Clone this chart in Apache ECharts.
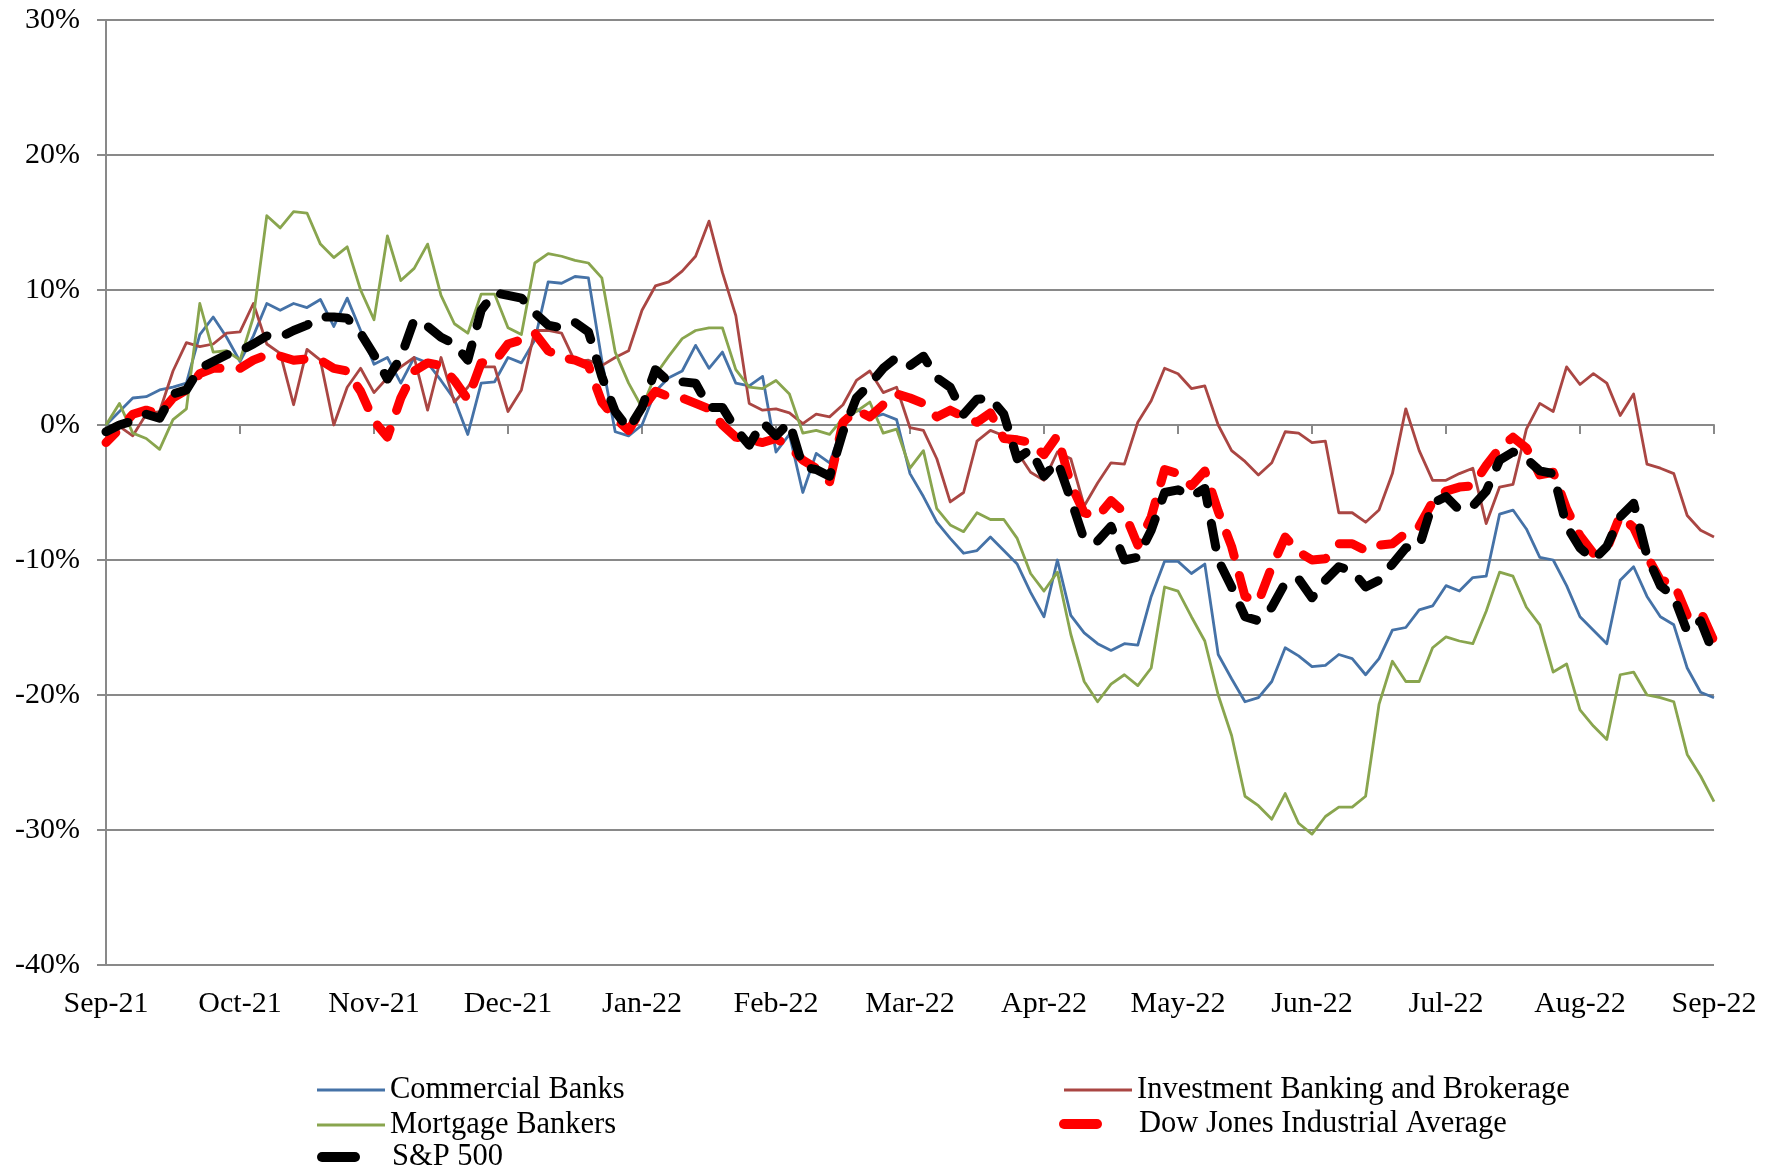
<!DOCTYPE html>
<html>
<head>
<meta charset="utf-8">
<script src="https://cdn.jsdelivr.net/npm/echarts@6/dist/echarts.min.js"></script>
<style>
html,body{margin:0;padding:0;background:#fff;}
#chart{width:1776px;height:1170px;}
</style>
</head>
<body>
<div id="chart"></div>
<script>
// Month tick labels (x axis), one per month boundary
const monthLabels = ['Sep-21','Oct-21','Nov-21','Dec-21','Jan-22','Feb-22','Mar-22','Apr-22','May-22','Jun-22','Jul-22','Aug-22','Sep-22'];
// Samples every 1/10 month (121 points), cumulative % change
const commercialBanks = [0, 1.0, 2.0, 2.1, 2.6, 2.8, 3.1, 6.7, 8.0, 6.5,
 4.7, 6.6, 9.0, 8.5, 9.0, 8.7, 9.3, 7.3, 9.4, 7.0,
 4.5, 5.0, 3.1, 5.0, 4.6, 3.3, 1.9, -0.7, 3.1, 3.2,
 5.0, 4.6, 6.3, 10.6, 10.5, 11.0, 10.9, 4.8, -0.5, -0.8,
 0.0, 2.5, 3.5, 4.0, 5.9, 4.2, 5.4, 3.1, 2.9, 3.6,
 -2.0, -0.7, -5.0, -2.1, -2.8, 0.0, 1.2, 0.5, 0.8, 0.4,
 -3.6, -5.3, -7.2, -8.4, -9.5, -9.3, -8.3, -9.3, -10.3, -12.4,
 -14.2, -10.0, -14.1, -15.4, -16.2, -16.7, -16.2, -16.3, -12.7, -10.1,
 -10.1, -11.0, -10.3, -17.0, -18.8, -20.5, -20.2, -19.0, -16.5, -17.1,
 -17.9, -17.8, -17.0, -17.3, -18.5, -17.3, -15.2, -15.0, -13.7, -13.4,
 -11.9, -12.3, -11.3, -11.2, -6.6, -6.3, -7.7, -9.8, -10.0, -11.9,
 -14.2, -15.2, -16.2, -11.5, -10.5, -12.7, -14.2, -14.8, -18.0, -19.8,
 -20.2];
const investmentBanking = [-0.5, -0.1, -0.8, 0.8, 1.0, 4.0, 6.1, 5.8, 6.0, 6.8,
 6.9, 9.0, 6.0, 5.3, 1.5, 5.6, 4.8, 0.0, 2.8, 4.2,
 2.4, 3.5, 4.3, 5.0, 1.1, 5.0, 1.7, 2.8, 4.3, 4.3,
 1.0, 2.6, 7.0, 7.0, 6.8, 4.7, 4.8, 4.4, 5.0, 5.5,
 8.5, 10.3, 10.6, 11.4, 12.5, 15.1, 11.3, 8.1, 1.6, 1.1,
 1.2, 0.9, 0.1, 0.8, 0.6, 1.5, 3.3, 4.0, 2.4, 2.8,
 -0.2, -0.4, -2.5, -5.7, -5.0, -1.2, -0.4, -0.8, -2.0, -3.5,
 -4.1, -2.0, -2.5, -6.0, -4.3, -2.8, -2.9, 0.2, 1.8, 4.2,
 3.8, 2.7, 2.9, 0.0, -1.9, -2.7, -3.7, -2.8, -0.5, -0.6,
 -1.3, -1.2, -6.5, -6.5, -7.2, -6.3, -3.6, 1.2, -1.9, -4.1,
 -4.1, -3.6, -3.2, -7.3, -4.6, -4.4, -0.3, 1.6, 1.0, 4.3,
 3.0, 3.8, 3.1, 0.7, 2.3, -2.9, -3.2, -3.6, -6.7, -7.8,
 -8.3];
const mortgageBankers = [0.0, 1.6, -0.6, -1.0, -1.8, 0.4, 1.2, 9.0, 5.4, 5.5,
 4.8, 8.0, 15.5, 14.6, 15.8, 15.7, 13.4, 12.4, 13.2, 10.0,
 7.8, 14.0, 10.7, 11.6, 13.4, 9.6, 7.5, 6.8, 9.7, 9.7,
 7.2, 6.7, 12.0, 12.7, 12.5, 12.2, 12.0, 10.9, 5.4, 3.1,
 1.3, 3.7, 5.1, 6.4, 7.0, 7.2, 7.2, 4.1, 2.8, 2.7,
 3.3, 2.3, -0.6, -0.4, -0.7, 0.5, 1.0, 1.7, -0.6, -0.3,
 -3.2, -1.9, -6.2, -7.4, -7.9, -6.5, -7.0, -7.0, -8.4, -11.0,
 -12.3, -10.9, -15.5, -19.0, -20.5, -19.2, -18.5, -19.3, -18.0, -12.0,
 -12.3, -14.2, -16.0, -20.0, -23.0, -27.5, -28.2, -29.2, -27.3, -29.5,
 -30.3, -29.0, -28.3, -28.3, -27.5, -20.7, -17.5, -19.0, -19.0, -16.5,
 -15.7, -16.0, -16.2, -13.8, -10.9, -11.2, -13.5, -14.8, -18.3, -17.7,
 -21.1, -22.3, -23.3, -18.5, -18.3, -20.0, -20.2, -20.5, -24.4, -26.0,
 -27.9];
const dowJones = [-1.3, -0.3, 0.8, 1.1, 0.8, 2.0, 2.6, 3.8, 4.2, 4.2,
 4.2, 4.8, 5.2, 5.1, 4.8, 4.9, 4.8, 4.2, 4.0, 2.5,
 0.3, -0.9, 2.0, 4.0, 4.6, 4.4, 3.3, 1.9, 4.6, 4.7,
 6.0, 6.3, 6.8, 5.5, 5.0, 4.8, 4.4, 1.7, 0.5, -0.4,
 1.2, 2.5, 2.1, 2.0, 1.6, 1.2, 0.0, -0.9, -1.1, -1.3,
 -1.0, -1.6, -2.6, -3.2, -4.2, 0.2, 1.1, 0.6, 1.5, 2.3,
 2.0, 1.6, 0.6, 1.1, 0.6, 0.2, 0.9, -1.0, -1.1, -1.3,
 -2.2, -0.8, -4.4, -6.5, -6.8, -5.6, -6.5, -8.9, -6.8, -3.3,
 -3.6, -4.5, -3.4, -6.4, -9.0, -12.7, -13.1, -10.5, -8.3, -9.4,
 -10.0, -9.9, -8.8, -8.8, -9.3, -8.9, -8.8, -8.0, -7.5, -5.7,
 -4.9, -4.6, -4.5, -3.0, -1.7, -0.9, -1.7, -3.7, -3.5, -6.2,
 -8.2, -9.5, -9.2, -6.7, -7.6, -9.7, -11.5, -11.7, -14.1, -13.8,
 -16.0];
const sp500 = [-0.5, 0.0, 0.3, 0.8, 0.5, 2.3, 2.6, 4.2, 4.7, 5.2,
 5.5, 6.0, 6.6, 6.5, 7.0, 7.4, 8.0, 8.0, 7.9, 6.8,
 5.2, 3.4, 5.0, 7.8, 7.3, 6.5, 6.0, 4.8, 8.5, 9.8,
 9.6, 9.4, 8.3, 7.4, 7.2, 7.6, 6.9, 3.6, 1.0, -0.3,
 1.3, 4.1, 3.2, 3.2, 3.1, 1.3, 1.3, -0.3, -1.5, 0.2,
 -0.8, 0.2, -3.1, -3.3, -3.8, -0.5, 2.0, 3.0, 4.2, 5.0,
 4.4, 5.1, 3.5, 2.8, 0.8, 1.9, 2.0, 0.8, -2.5, -1.8,
 -3.8, -2.7, -5.5, -8.5, -8.6, -7.5, -10.0, -9.8, -7.8, -5.0,
 -4.8, -5.3, -4.7, -10.0, -12.0, -14.2, -14.5, -13.5, -11.7, -11.4,
 -12.8, -11.5, -10.5, -10.8, -12.0, -11.5, -10.3, -9.1, -9.0, -5.8,
 -5.3, -6.3, -6.0, -4.9, -2.6, -2.0, -2.5, -3.4, -3.6, -7.5,
 -9.1, -10.0, -9.0, -6.8, -5.8, -9.7, -11.9, -12.7, -15.3, -14.5,
 -17.0];
const yTicks = {min: -40, max: 30, step: 10};
const samplesPerMonth = 10;

const FONT = 'Liberation Serif';
const GRID_COLOR = '#898989';
const toXY = arr => arr.map((v, i) => [i / samplesPerMonth, v]);

const thin = (name, color, arr) => ({
  name, type: 'line', data: toXY(arr), showSymbol: false, symbol: 'none',
  color, lineStyle: {color, width: 2.8, join: 'round'}, silent: true, animation: false
});
const thick = (name, color, arr, offset) => ({
  name, type: 'line', data: toXY(arr), showSymbol: false, symbol: 'none',
  color, lineStyle: {color, width: 9, type: [24, 20], dashOffset: offset, cap: 'round', join: 'round'},
  silent: true, animation: false
});

const capsule = 'path://M5,0 H38 A5,5 0 0 1 38,10 H5 A5,5 0 0 1 5,0 Z';
const legendText = {fontFamily: FONT, fontSize: 30.5, color: '#000', lineHeight: 30};

const chart = echarts.init(document.getElementById('chart'), null, {renderer: 'canvas'});
chart.setOption({
  backgroundColor: '#fff',
  animation: false,
  grid: {left: 106, right: 62, top: 20, bottom: 205, containLabel: false},
  xAxis: [
    {type: 'value', min: 0, max: 12, interval: 1, position: 'bottom',
     axisLine: {show: true, onZero: true, lineStyle: {color: GRID_COLOR, width: 2}},
     axisTick: {show: true, length: 9, lineStyle: {color: GRID_COLOR, width: 2}},
     axisLabel: {show: false}, splitLine: {show: false}},
    {type: 'value', min: 0, max: 12, interval: 1, position: 'bottom',
     axisLine: {show: false, onZero: false}, axisTick: {show: false}, splitLine: {show: false},
     axisLabel: {show: true, margin: 24, showMinLabel: true, showMaxLabel: true,
       formatter: v => monthLabels[Math.round(v)] || '',
       fontFamily: FONT, fontSize: 30, color: '#000'}}
  ],
  yAxis: {type: 'value', min: yTicks.min, max: yTicks.max, interval: yTicks.step,
    axisLine: {show: true, lineStyle: {color: GRID_COLOR, width: 2}},
    axisTick: {show: true, length: 9, lineStyle: {color: GRID_COLOR, width: 2}},
    splitLine: {show: true, lineStyle: {color: GRID_COLOR, width: 2}},
    axisLabel: {margin: 26, formatter: v => v + '%', fontFamily: FONT, fontSize: 30, color: '#000'}},
  legend: [
    {orient: 'vertical', left: 317, top: 1074.5, padding: 0, itemGap: 4, itemWidth: 68, itemHeight: 3,
     selectedMode: false, itemStyle: {borderWidth: 0}, textStyle: legendText,
     data: [{name: 'Commercial Banks', icon: 'rect'}, {name: 'Mortgage Bankers', icon: 'rect'}]},
    {orient: 'vertical', left: 317, top: 1141.5, padding: 0, itemWidth: 43, itemHeight: 10,
     selectedMode: false, itemStyle: {borderWidth: 0},
     textStyle: Object.assign({}, legendText, {padding: [0, 0, 0, 27]}),
     data: [{name: 'S&P 500', icon: capsule}]},
    {orient: 'vertical', left: 1064, top: 1074.5, padding: 0, itemWidth: 68, itemHeight: 3,
     selectedMode: false, itemStyle: {borderWidth: 0}, textStyle: legendText,
     data: [{name: 'Investment Banking and Brokerage', icon: 'rect'}]},
    {orient: 'vertical', left: 1059, top: 1108.5, padding: 0, itemWidth: 45, itemHeight: 10,
     selectedMode: false, itemStyle: {borderWidth: 0},
     textStyle: Object.assign({}, legendText, {padding: [0, 0, 0, 31]}),
     data: [{name: 'Dow Jones Industrial Average', icon: capsule}]}
  ],
  series: [
    thin('Commercial Banks', '#4572A7', commercialBanks),
    thin('Investment Banking and Brokerage', '#AA4643', investmentBanking),
    thin('Mortgage Bankers', '#89A54E', mortgageBankers),
    thick('Dow Jones Industrial Average', '#FF0000', dowJones, 10),
    thick('S&P 500', '#000000', sp500, 0)
  ]
});
</script>
</body>
</html>
